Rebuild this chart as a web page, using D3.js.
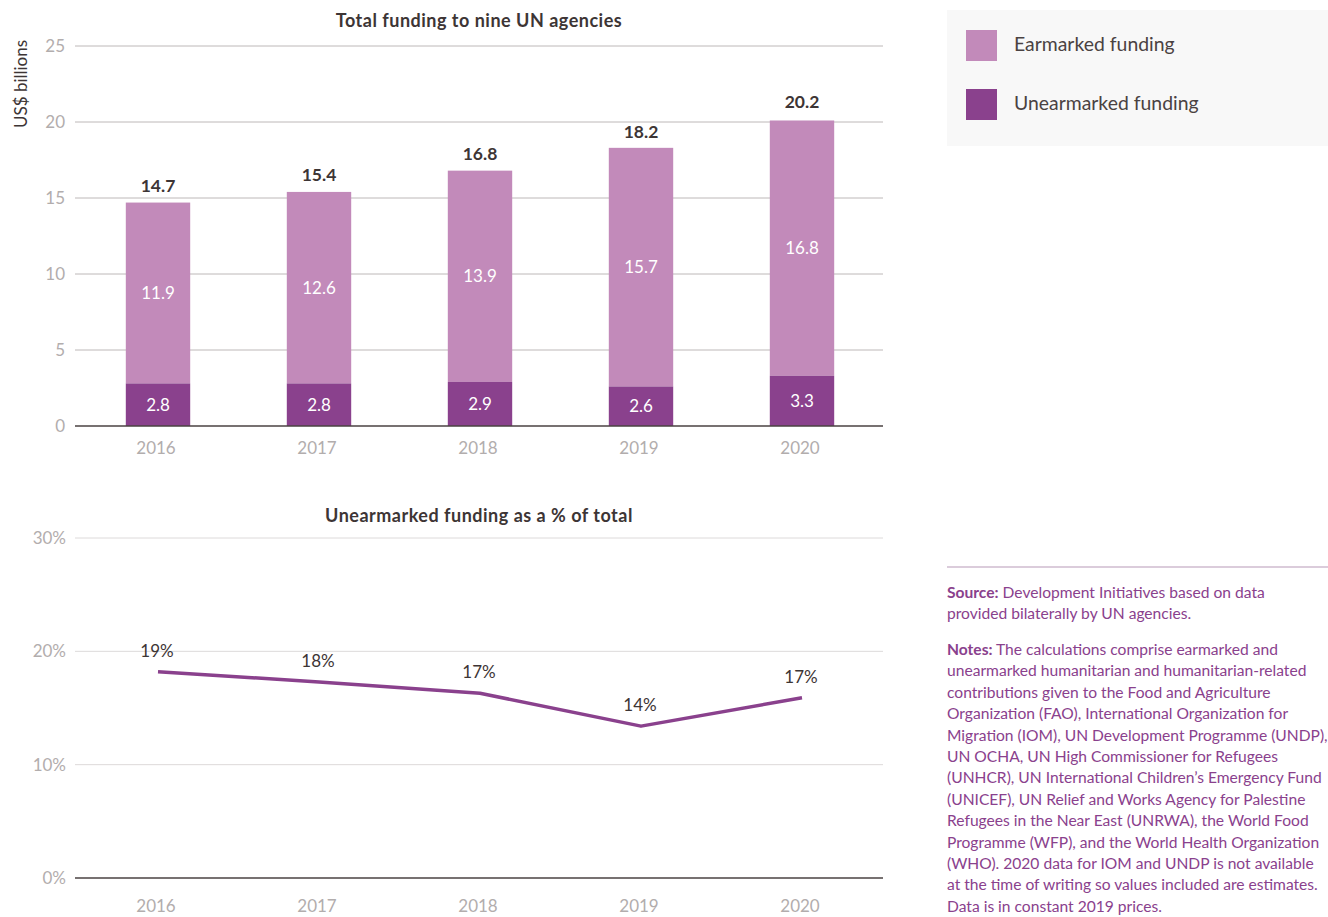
<!DOCTYPE html>
<html>
<head>
<meta charset="utf-8">
<script src="https://cdn.jsdelivr.net/npm/d3@7"></script>
<style>
  html, body { margin: 0; padding: 0; background: #fff; }
  svg { display: block; font-family: Lato, "Open Sans", sans-serif; }
</style>
</head>
<body>
<svg id="chart" width="1328" height="917"></svg>
<script>
// ---- Data ----
const years = ["2016", "2017", "2018", "2019", "2020"];
const earmarked = [11.9, 12.6, 13.9, 15.7, 16.8];
const unearmarked = [2.8, 2.8, 2.9, 2.6, 3.3];
const totals = [14.7, 15.4, 16.8, 18.2, 20.2];
const sharePct = [18.2, 17.3, 16.3, 13.4, 15.9];           // plotted line position (%)
const shareLabels = ["19%", "18%", "17%", "14%", "17%"];     // printed labels
const barTicks = [0, 5, 10, 15, 20, 25];
const pctTicks = [0, 10, 20, 30];
const seriesNames = ["Earmarked funding", "Unearmarked funding"];
const sourceLines = [
  ["Source:", " Development Initiatives based on data"],
  ["", "provided bilaterally by UN agencies."]
];
const notesLines = [
  ["Notes:", " The calculations comprise earmarked and"],
  ["", "unearmarked humanitarian and humanitarian-related"],
  ["", "contributions given to the Food and Agriculture"],
  ["", "Organization (FAO), International Organization for"],
  ["", "Migration (IOM), UN Development Programme (UNDP),"],
  ["", "UN OCHA, UN High Commissioner for Refugees"],
  ["", "(UNHCR), UN International Children\u2019s Emergency Fund"],
  ["", "(UNICEF), UN Relief and Works Agency for Palestine"],
  ["", "Refugees in the Near East (UNRWA), the World Food"],
  ["", "Programme (WFP), and the World Health Organization"],
  ["", "(WHO). 2020 data for IOM and UNDP is not available"],
  ["", "at the time of writing so values included are estimates."],
  ["", "Data is in constant 2019 prices."]
];

// ---- Styles ----
const cLight = "#c28aba", cDark = "#8a418d";
const textDark = "#3d3535", tickGray = "#b2adad";

const svg = d3.select("#chart");

// ---- Top chart ----
const x = d3.scaleBand().domain(years).range([77.5, 882.5]).paddingInner(0.6).paddingOuter(0.3);
const y = d3.scaleLinear().domain([0, 25]).range([426, 46]);
const gTop = svg.append("g");

gTop.append("g").selectAll("line").data(barTicks.filter(d => d > 0)).join("line")
  .attr("x1", 75).attr("x2", 883).attr("y1", d => y(d)).attr("y2", d => y(d))
  .attr("stroke", "#bdb8b8").attr("stroke-width", 1);

gTop.append("g").selectAll("text").data(barTicks).join("text")
  .attr("x", 65).attr("y", d => y(d)).attr("dy", "0.35em").attr("text-anchor", "end")
  .attr("font-size", 17).attr("fill", tickGray).text(d => d);

const bars = gTop.append("g").selectAll("g").data(years).join("g");
bars.append("rect")
  .attr("x", d => x(d)).attr("width", x.bandwidth())
  .attr("y", (d, i) => y(unearmarked[i] + earmarked[i]))
  .attr("height", (d, i) => y(unearmarked[i]) - y(unearmarked[i] + earmarked[i]))
  .attr("fill", cLight);
bars.append("rect")
  .attr("x", d => x(d)).attr("width", x.bandwidth())
  .attr("y", (d, i) => y(unearmarked[i]))
  .attr("height", (d, i) => y(0) - y(unearmarked[i]))
  .attr("fill", cDark);
bars.append("text")
  .attr("x", d => x(d) + x.bandwidth() / 2)
  .attr("y", (d, i) => y(unearmarked[i] + earmarked[i] / 2))
  .attr("dy", "0.35em").attr("text-anchor", "middle").attr("font-size", 17)
  .attr("fill", "#fff").text((d, i) => earmarked[i].toFixed(1));
bars.append("text")
  .attr("x", d => x(d) + x.bandwidth() / 2)
  .attr("y", (d, i) => y(unearmarked[i] / 2))
  .attr("dy", "0.35em").attr("text-anchor", "middle").attr("font-size", 17)
  .attr("fill", "#fff").text((d, i) => unearmarked[i].toFixed(1));
bars.append("text")
  .attr("x", d => x(d) + x.bandwidth() / 2)
  .attr("y", (d, i) => y(totals[i]) - 11)
  .attr("text-anchor", "middle").attr("font-size", 17.5).attr("font-weight", "bold")
  .attr("fill", textDark).text((d, i) => totals[i].toFixed(1));

gTop.append("line").attr("x1", 75).attr("x2", 883).attr("y1", y(0)).attr("y2", y(0))
  .attr("stroke", "#4a4242").attr("stroke-width", 1.5);

gTop.append("g").selectAll("text").data(years).join("text")
  .attr("x", d => x(d) + x.bandwidth() / 2 - 2).attr("y", 448).attr("dy", "0.35em")
  .attr("text-anchor", "middle").attr("font-size", 17).attr("fill", tickGray).text(d => d);

gTop.append("text").attr("x", 479).attr("y", 21).attr("dy", "0.35em").attr("text-anchor", "middle")
  .attr("font-size", 18).attr("letter-spacing", 0.5).attr("font-weight", "bold").attr("fill", textDark)
  .text("Total funding to nine UN agencies");

gTop.append("text").attr("transform", "translate(21,84) rotate(-90)").attr("dy", "0.35em")
  .attr("text-anchor", "middle").attr("font-size", 17).attr("fill", textDark).text("US$ billions");

// ---- Bottom chart ----
const y2 = d3.scaleLinear().domain([0, 30]).range([878, 538]);
const gBot = svg.append("g");
gBot.append("g").selectAll("line").data(pctTicks.filter(d => d > 0)).join("line")
  .attr("x1", 75).attr("x2", 883).attr("y1", d => y2(d)).attr("y2", d => y2(d))
  .attr("stroke", "#dddada").attr("stroke-width", 1);
gBot.append("g").selectAll("text").data(pctTicks).join("text")
  .attr("x", 66).attr("y", d => y2(d)).attr("dy", "0.35em").attr("text-anchor", "end")
  .attr("font-size", 17).attr("fill", tickGray).text(d => d + "%");
gBot.append("line").attr("x1", 75).attr("x2", 883).attr("y1", y2(0)).attr("y2", y2(0))
  .attr("stroke", "#4a4242").attr("stroke-width", 1.5);

const cx = d => x(d) + x.bandwidth() / 2;
const line = d3.line().x((d, i) => cx(years[i])).y(d => y2(d));
gBot.append("path").datum(sharePct).attr("d", line).attr("fill", "none")
  .attr("stroke", cDark).attr("stroke-width", 3.5).attr("stroke-linejoin", "round");
gBot.append("g").selectAll("text").data(sharePct).join("text")
  .attr("x", (d, i) => cx(years[i]) - 1).attr("y", d => y2(d) - 21).attr("dy", "0.35em")
  .attr("text-anchor", "middle").attr("font-size", 17).attr("fill", textDark)
  .text((d, i) => shareLabels[i]);
gBot.append("g").selectAll("text").data(years).join("text")
  .attr("x", d => cx(d) - 2).attr("y", 906).attr("dy", "0.35em")
  .attr("text-anchor", "middle").attr("font-size", 17).attr("fill", tickGray).text(d => d);
gBot.append("text").attr("x", 479).attr("y", 516).attr("dy", "0.35em").attr("text-anchor", "middle")
  .attr("font-size", 18).attr("letter-spacing", 0.5).attr("font-weight", "bold").attr("fill", textDark)
  .text("Unearmarked funding as a % of total");

// ---- Legend ----
const leg = svg.append("g");
leg.append("rect").attr("x", 947).attr("y", 10).attr("width", 381).attr("height", 136).attr("fill", "#f8f8f8");
const color = d3.scaleOrdinal().domain(seriesNames).range([cLight, cDark]);
const li = leg.selectAll("g").data(seriesNames).join("g")
  .attr("transform", (d, i) => `translate(966,${30 + i * 59})`);
li.append("rect").attr("width", 31).attr("height", 31).attr("fill", d => color(d));
li.append("text").attr("x", 48).attr("y", 14.5).attr("dy", "0.35em").attr("font-size", 19.4)
  .attr("fill", "#4a4242").text(d => d);

// ---- Source / notes ----
const gNotes = svg.append("g");
gNotes.append("line").attr("x1", 947).attr("x2", 1328).attr("y1", 567).attr("y2", 567)
  .attr("stroke", "#b89ab8").attr("stroke-width", 1.2);
const noteColor = "#8a418d";
function writeLines(lines, y0) {
  lines.forEach((ln, i) => {
    const t = gNotes.append("text").attr("x", 947).attr("y", y0 + i * 21.4)
      .attr("font-size", 15.6).attr("fill", noteColor);
    if (ln[0]) t.append("tspan").attr("font-weight", "bold").text(ln[0]);
    t.append("tspan").text(ln[1]);
  });
}
writeLines(sourceLines, 598);
writeLines(notesLines, 655);
</script>
</body>
</html>
